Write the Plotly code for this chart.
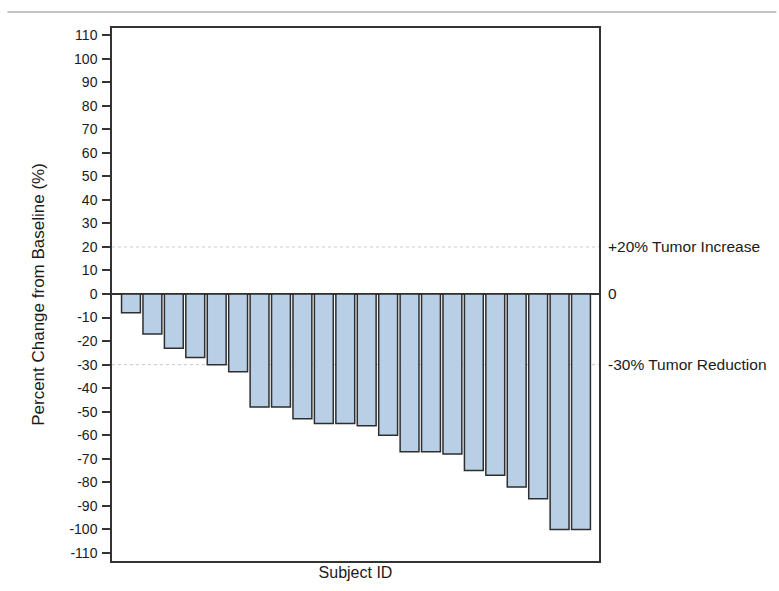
import plotly.graph_objects as go

# Best percent change from baseline per subject, sorted (waterfall)
subjects = [f"S{i:02d}" for i in range(1, 23)]
pct_change = [-8, -17, -23, -27, -30, -33, -48, -48, -53, -55, -55, -56,
              -60, -67, -67, -68, -75, -77, -82, -87, -100, -100]

y_ticks = list(range(-110, 111, 10))
y_tick_text = [str(v) for v in y_ticks]
ref_vals = [20, 0, -30]
ref_text = ["+20% Tumor Increase", "0", "-30% Tumor Reduction"]

font = dict(family="Liberation Sans, Arial, sans-serif", size=14, color="#1a1a1a")
y_range = [-113.4, 113]

fig = go.Figure()
fig.add_trace(go.Bar(
    x=list(range(len(subjects))), y=pct_change,
    marker=dict(color="#b9cfe6", line=dict(color="#2e2e2e", width=1.5)),
    width=0.88, showlegend=False, hoverinfo="y",
))
# invisible trace to carry the right-hand reference axis
fig.add_trace(go.Scatter(x=[0], y=[0], yaxis="y2", mode="markers",
                         marker=dict(opacity=0), showlegend=False, hoverinfo="skip"))

# dotted reference lines at +20% and -30%
for v in [20, -30]:
    fig.add_shape(type="line", xref="paper", x0=0, x1=1, yref="y", y0=v, y1=v,
                  line=dict(color="#c8c8c8", width=1, dash="dot"), layer="below")

# thin rule across the top of the page
fig.add_shape(type="line", xref="paper", yref="paper", x0=-0.2147, x1=1.364,
              y0=1.030, y1=1.030, line=dict(color="#8a8a8a", width=1.2))

fig.update_layout(
    width=779, height=591,
    margin=dict(l=112, r=178, t=28, b=30),
    paper_bgcolor="white", plot_bgcolor="white",
    font=font, bargap=0.12,
    xaxis=dict(range=[-0.885, 21.84], showticklabels=False, ticks="",
               showgrid=False, zeroline=False, showline=True, mirror=True,
               linecolor="#333333", linewidth=1.5,
               title=dict(text="Subject ID", font=dict(size=16), standoff=5)),
    yaxis=dict(range=y_range, tickvals=y_ticks, ticktext=y_tick_text,
               ticks="outside", ticklen=8, ticklabelstandoff=2,
               tickcolor="#333333", tickwidth=1.5, showgrid=False,
               zeroline=True, zerolinecolor="#333333", zerolinewidth=1.5,
               showline=True, mirror=True, linecolor="#333333", linewidth=1.5,
               title=dict(text="Percent Change from Baseline (%)",
                          font=dict(size=17), standoff=20)),
    yaxis2=dict(range=y_range, overlaying="y", side="right",
                tickvals=ref_vals, ticktext=ref_text, ticks="",
                ticklabelstandoff=8,
                showgrid=False, zeroline=False, showline=False,
                tickfont=dict(size=15.5)),
)

fig.write_html("out.html")
